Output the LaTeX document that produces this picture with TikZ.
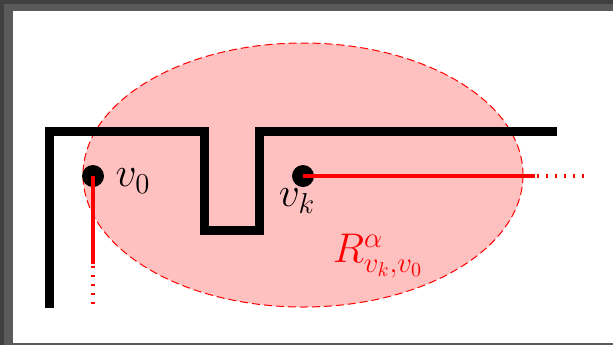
\documentclass[tikz,border=0pt]{standalone}
\usepackage{tikz}
\definecolor{framedark}{HTML}{404040}
\definecolor{framelight}{HTML}{5A5A5A}
\definecolor{regionpink}{HTML}{FFC0C0}

\begin{document}
\begin{tikzpicture}[x=0.5pt, y=-0.5pt,
    wall/.style={line width=4.5pt},
    ray/.style={red, line width=2.25pt},
    raydots/.style={red, line width=2.25pt, dash pattern=on 1pt off 3.5pt},
    lbl/.style={font=\fontsize{20}{24}\selectfont, inner sep=0pt}]
  \useasboundingbox (0,0) rectangle (613,345);
  \fill[framedark] (0,0) rectangle (613,345);
  \fill[framelight] (4,4) rectangle (613,345);
  \fill[white] (13,11) rectangle (613,342.5);
  \coordinate (O) at (303, 175);
  \coordinate (v0) at (93, 176);
  \coordinate (vk) at (303, 176);
  \coordinate (Ks) at (535, 176);
  \coordinate (Kd) at (537, 176);
  \coordinate (Ke) at (584, 176);
  \coordinate (Zs) at (93, 264);
  \coordinate (Zd) at (93, 266);
  \coordinate (Ze) at (93, 305);
  \draw[red, line width=0.5pt, dash pattern=on 4pt off 2pt, fill=regionpink] (O) ellipse [x radius=220, y radius=132];
  \draw[wall] (49, 308) -- (49, 131.5) -- (204.5, 131.5) -- (204.5, 230.5)
    -- (259, 230.5) -- (259, 131.5) -- (557, 131.5);
  \fill (v0) circle[radius=11];
  \fill (vk) circle[radius=11];
  \draw[ray] (vk) -- (Ks);
  \draw[raydots] (Kd) -- (Ke);
  \draw[ray] (v0) -- (Zs);
  \draw[raydots] (Zd) -- (Ze);
  \node[lbl] (v0label) at (133, 181) {$v_0$};
  \node[lbl] (vklabel) at (297, 201) {$v_k$};
  \node[lbl, red] (Rlabel) at (378, 256) {$R^{\alpha}_{v_k,v_0}$};
\end{tikzpicture}
\end{document}
